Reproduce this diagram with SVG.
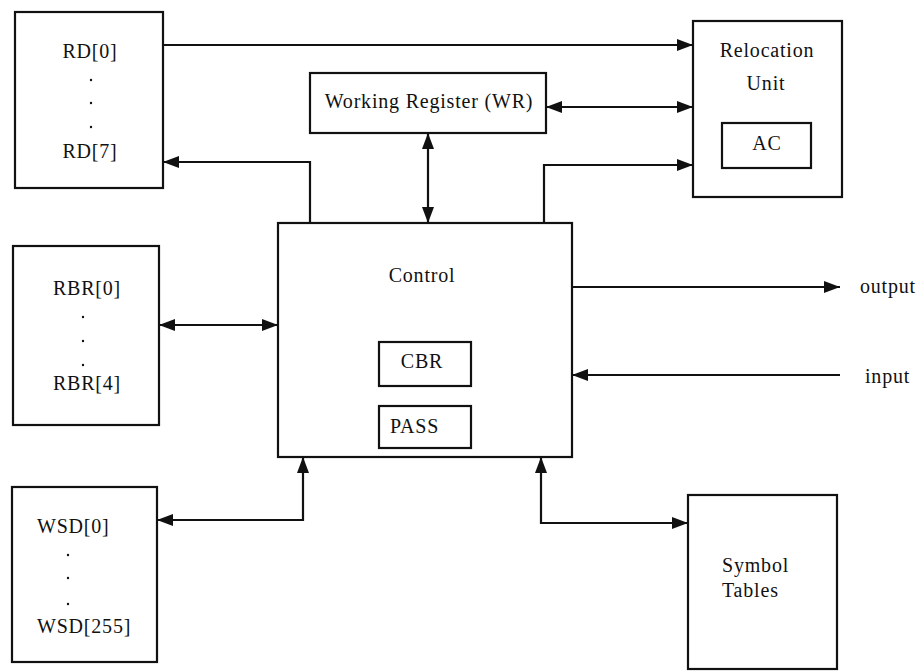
<svg xmlns="http://www.w3.org/2000/svg" width="918" height="671" viewBox="0 0 918 671">
<style>
.box{fill:#fff;stroke:#111;stroke-width:2.2}
.t{font-family:"Liberation Serif","Times New Roman",serif;font-size:20px;fill:#111;letter-spacing:0.8px}
.m{text-anchor:middle}
.c{fill:none;stroke:#111;stroke-width:2.2}
.dot{fill:#111}
</style>
<defs>
<marker id="ah" viewBox="0 0 16 12" refX="16" refY="6" markerWidth="16" markerHeight="12" markerUnits="userSpaceOnUse" orient="auto-start-reverse">
<path d="M0,0 L16,6 L0,12 Z" fill="#111"/>
</marker>
</defs>
<rect width="918" height="671" fill="#fff"/>
<g id="connectors">
<path class="c" d="M163,45 H693" marker-end="url(#ah)"/>
<path class="c" d="M310,223 V162 H163" marker-end="url(#ah)"/>
<path class="c" d="M546,107 H693" marker-start="url(#ah)" marker-end="url(#ah)"/>
<path class="c" d="M428,133 V223" marker-start="url(#ah)" marker-end="url(#ah)"/>
<path class="c" d="M544,223 V165 H693" marker-end="url(#ah)"/>
<path class="c" d="M159,325 H278" marker-start="url(#ah)" marker-end="url(#ah)"/>
<path class="c" d="M572,287 H840" marker-end="url(#ah)"/>
<path class="c" d="M840,375 H572" marker-end="url(#ah)"/>
<path class="c" d="M157,520 H303 V457" marker-start="url(#ah)" marker-end="url(#ah)"/>
<path class="c" d="M541,457 V523 H688" marker-start="url(#ah)" marker-end="url(#ah)"/>
</g>
<g id="rd">
<rect class="box" x="15" y="12" width="148" height="176"/>
<text class="t m" x="90" y="58">RD[0]</text>
<circle class="dot" cx="91" cy="80" r="1.2"/>
<circle class="dot" cx="91" cy="103" r="1.2"/>
<circle class="dot" cx="91" cy="127" r="1.2"/>
<text class="t m" x="90" y="158">RD[7]</text>
</g>
<g id="wr">
<rect class="box" x="310" y="73" width="236" height="60"/>
<text class="t m" x="429" y="108">Working Register (WR)</text>
</g>
<g id="relocation">
<rect class="box" x="693" y="21" width="149" height="176"/>
<text class="t m" x="767" y="57">Relocation</text>
<text class="t m" x="766" y="90">Unit</text>
<rect class="box" x="722" y="123" width="89" height="45"/>
<text class="t m" x="767" y="150">AC</text>
</g>
<g id="control">
<rect class="box" x="278" y="223" width="294" height="234"/>
<text class="t m" x="422" y="282">Control</text>
<rect class="box" x="379" y="342" width="92" height="44"/>
<text class="t m" x="422" y="368">CBR</text>
<rect class="box" x="379" y="406" width="92" height="42"/>
<text class="t" x="390" y="433">PASS</text>
</g>
<g id="rbr">
<rect class="box" x="13" y="246" width="146" height="179"/>
<text class="t m" x="87" y="295">RBR[0]</text>
<circle class="dot" cx="83" cy="317" r="1.2"/>
<circle class="dot" cx="83" cy="341" r="1.2"/>
<circle class="dot" cx="83" cy="365" r="1.2"/>
<text class="t m" x="87" y="390">RBR[4]</text>
</g>
<g id="wsd">
<rect class="box" x="12" y="487" width="145" height="175"/>
<text class="t" x="37" y="533">WSD[0]</text>
<circle class="dot" cx="68" cy="555" r="1.2"/>
<circle class="dot" cx="68" cy="578" r="1.2"/>
<circle class="dot" cx="68" cy="604" r="1.2"/>
<text class="t" x="37" y="633">WSD[255]</text>
</g>
<g id="symbol">
<rect class="box" x="688" y="495" width="149" height="174"/>
<text class="t" x="722" y="572">Symbol</text>
<text class="t" x="722" y="597">Tables</text>
</g>
<g id="io">
<text class="t" x="860" y="293">output</text>
<text class="t" x="865" y="383">input</text>
</g>
</svg>
